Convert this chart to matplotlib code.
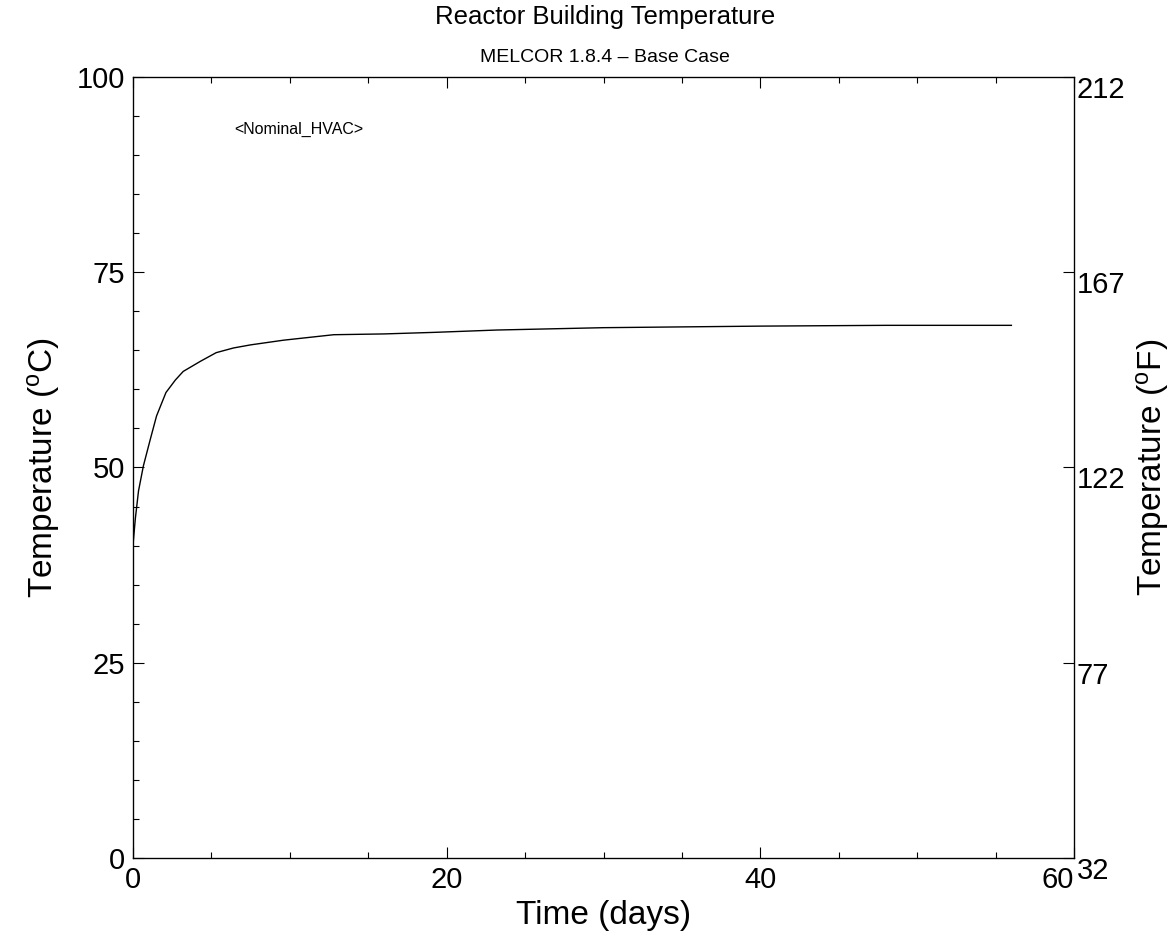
import matplotlib
matplotlib.use('Agg')
from matplotlib import pyplot as plt
from matplotlib.ticker import MultipleLocator
import matplotlib.transforms as mtransforms

'reactor building temperature, MELCOR base case'

# curve
time_days = [0, 0.15, 0.35, 0.66, 1.1, 1.5, 2.1, 2.7, 3.2, 4.3, 5.3, 6.4,
             7.5, 9.6, 12.8, 16, 19.2, 23.2, 30, 40, 48, 56]
temp_c = [40.1, 43.5, 47.0, 50.2, 53.6, 56.6, 59.6, 61.2, 62.3, 63.6, 64.7,
          65.3, 65.7, 66.3, 67.0, 67.1, 67.3, 67.6, 67.9, 68.1, 68.2, 68.2]

x_ticks = [0, 20, 40, 60]
c_ticks = [0, 25, 50, 75, 100]
f_ticks = [32, 77, 122, 167, 212]

plt.rcParams['font.family'] = ['Liberation Sans', 'DejaVu Sans']
plt.rcParams['mathtext.default'] = 'regular'

fig = plt.figure(figsize=(11.72, 9.5), dpi=100)
ax = fig.add_axes([0.1135, 0.0968, 0.803, 0.8222])

ax.plot(time_days, temp_c, color='k', lw=1.0)

ax.set_xlim(0, 60)
ax.set_ylim(0, 100)
ax.set_xticks(x_ticks)
ax.set_yticks(c_ticks)
ax.xaxis.set_minor_locator(MultipleLocator(5))
ax.yaxis.set_minor_locator(MultipleLocator(5))
ax.tick_params(which='both', direction='in', top=True, right=False,
               labelsize=21, width=0.8, pad=6)
ax.tick_params(which='major', length=8)
ax.tick_params(which='minor', length=4)
for s in ax.spines.values():
    s.set_linewidth(0.9)

# last day label sits a bit left, under the 32 F label
shift = mtransforms.ScaledTranslation(-16 / 100, 0, fig.dpi_scale_trans)
xlabs = ax.get_xticklabels()
xlabs[-1].set_transform(xlabs[-1].get_transform() + shift)

ax.set_xlabel('Time (days)', fontsize=24, labelpad=4)
ax.set_ylabel('Temperature ($^{o}$C)', fontsize=24, labelpad=10)

# fahrenheit scale on the right
ax2 = ax.twinx()
ax2.set_ylim(32, 212)
ax2.set_yticks(f_ticks)
ax2.tick_params(direction='in', length=8, width=0.8, labelsize=21, pad=2)
ax2.set_ylabel('Temperature ($^{o}$F)', fontsize=24, labelpad=6)
offset = mtransforms.ScaledTranslation(0, -10 / 100, fig.dpi_scale_trans)
for lab in ax2.get_yticklabels():
    lab.set_transform(lab.get_transform() + offset)

ax.text(0.108, 0.933, '<Nominal_HVAC>', transform=ax.transAxes,
        fontsize=11.5, va='center', ha='left')

fig.text(0.516, 0.982, 'Reactor Building Temperature', fontsize=18.5,
         ha='center', va='center')
fig.text(0.516, 0.939, 'MELCOR 1.8.4 \u2013 Base Case', fontsize=14,
         ha='center', va='center')

fig.savefig('out.png', dpi=100)
